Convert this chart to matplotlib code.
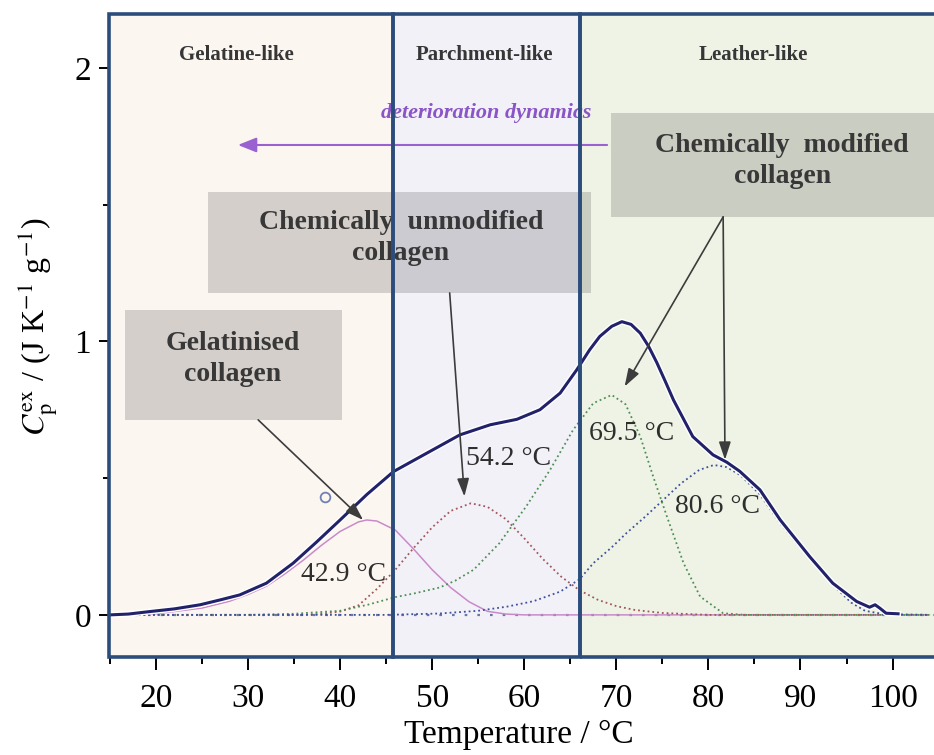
import numpy as np
import matplotlib
matplotlib.use('Agg')
import matplotlib.pyplot as plt
from matplotlib.patches import Rectangle
import matplotlib.patheffects as pe

plt.rcParams['font.family'] = ['Liberation Serif', 'DejaVu Serif']
plt.rcParams['mathtext.fontset'] = 'stix'

# data
T_total = [15.0, 17.0, 19.3, 22.0, 24.8, 27.0, 29.1, 32.0, 34.9, 37.4, 40.0, 42.9,
           45.8, 49.4, 53.0, 56.3, 59.2, 61.7, 63.9, 65.7, 67.1, 68.2, 69.5, 70.6, 71.6,
           72.6, 73.5, 74.4, 75.3, 76.2, 78.3, 80.5, 82.0, 83.4, 85.6, 87.8, 91.0, 93.5, 96.1,
           97.5, 98.1, 98.6, 99.3, 100.6]
Cp_total = [0.0, 0.003, 0.012, 0.022, 0.037, 0.055, 0.073, 0.116, 0.189, 0.265, 0.347, 0.44,
            0.524, 0.591, 0.658, 0.695, 0.715, 0.75, 0.811, 0.896, 0.969, 1.018, 1.055, 1.072, 1.062,
            1.03, 0.982, 0.922, 0.855, 0.786, 0.652, 0.585, 0.558, 0.525, 0.457, 0.347, 0.213, 0.116, 0.049,
            0.028, 0.037, 0.025, 0.006, 0.004]

T_pink = [15, 20, 25, 28, 30, 32, 34, 36, 38, 40, 42, 42.9, 44, 46, 48, 50, 52, 54, 56, 58, 60, 104]
Cp_pink = [0, 0.004, 0.025, 0.05, 0.075, 0.105, 0.15, 0.2, 0.255, 0.305, 0.34, 0.347, 0.343, 0.31,
           0.24, 0.165, 0.1, 0.048, 0.013, 0.003, 0, 0]

T_brown = [15, 36, 38, 40, 42, 44, 46, 48, 50, 52, 54.2, 56, 58, 60, 62, 64, 66, 68, 70, 72, 75, 80, 104]
Cp_brown = [0, 0, 0.004, 0.012, 0.035, 0.095, 0.165, 0.245, 0.32, 0.38, 0.408, 0.395, 0.35, 0.28,
            0.205, 0.14, 0.09, 0.055, 0.032, 0.018, 0.007, 0, 0]

T_green = [15, 30, 35, 40, 43, 46, 48, 50.8, 52.5, 54.5, 57.3, 60.2, 62.8, 65.3, 67.5, 69.5, 71,
           72.6, 74, 75.5, 77.3, 79.1, 81.6, 84, 104]
Cp_green = [0, 0, 0.004, 0.015, 0.037, 0.065, 0.078, 0.1, 0.125, 0.165, 0.262, 0.396, 0.53, 0.676,
            0.774, 0.804, 0.77, 0.652, 0.506, 0.359, 0.189, 0.067, 0.006, 0, 0]

T_blue = [15, 45, 50.8, 55, 58.1, 61, 63.9, 66, 67.5, 69.5, 71.1, 73, 74.7, 77, 79, 80.6, 82, 83.5,
          85.6, 87.8, 91, 93.5, 95.5, 97, 99, 104]
Cp_blue = [0, 0, 0.005, 0.015, 0.03, 0.05, 0.085, 0.13, 0.189, 0.247, 0.299, 0.355, 0.408, 0.48,
           0.53, 0.548, 0.54, 0.51, 0.44, 0.335, 0.205, 0.11, 0.045, 0.015, 0.003, 0]

peak_temps = [42.9, 54.2, 69.5, 80.6]
region_names = ['Gelatine-like', 'Parchment-like', 'Leather-like']
region_bounds = [14.9, 45.7, 66.0, 110.0]

fig = plt.figure(figsize=(9.34, 7.55), dpi=100)
ax = fig.add_axes([0.1167, 0.1298, 0.8833, 0.8517])
ax.set_xlim(14.9, 104.5)
ax.set_ylim(-0.154, 2.197)
y0, y1 = ax.get_ylim()

fills = ['#fcf6f1', '#f2f1f8', '#eff3e5']
for i in range(3):
    ax.add_patch(Rectangle((region_bounds[i], y0), region_bounds[i+1] - region_bounds[i], y1 - y0,
                           facecolor=fills[i], edgecolor='none', zorder=0))
    ax.add_patch(Rectangle((region_bounds[i], y0), region_bounds[i+1] - region_bounds[i], y1 - y0,
                           fill=False, edgecolor='#2c4d7c', lw=2.6, zorder=20, clip_on=False))

lab_x = [28.7, 55.7, 84.9]
for name, x in zip(region_names, lab_x):
    ax.text(x, 2.047, name, ha='center', va='center', fontsize=15, fontweight='bold', color='#363636')

# deterioration arrow
ax.text(55.9, 1.835, 'deterioration dynamics', ha='center', va='center', fontsize=16,
        style='italic', fontweight='bold', color='#8a55c6', zorder=5)
ax.annotate('', xy=(28.6, 1.718), xytext=(69.3, 1.718),
            arrowprops=dict(arrowstyle='-|>,head_length=0.7,head_width=0.28', color='#9a62d0',
                            lw=1.5, mutation_scale=16), zorder=4)

# baseline
ax.plot([15, 104.5], [0, 0], color='#6a78a6', lw=1.6, dashes=(1.2, 4.5), zorder=2)

# components
ax.plot(T_pink, Cp_pink, color='#c98ac9', lw=1.1, zorder=3)
ax.plot(T_brown, Cp_brown, color='#a2585a', lw=1.3, ls=':', zorder=3)
ax.plot(T_green, Cp_green, color='#4f8f55', lw=1.3, ls=':', zorder=3)
ax.plot(T_blue, Cp_blue, color='#3e4f9c', lw=1.3, ls=':', zorder=3)

# total curve
ax.plot(T_total, Cp_total, color='#22226a', lw=2.2, zorder=6, solid_joinstyle='round',
        path_effects=[pe.Stroke(linewidth=4.2, foreground='white'), pe.Normal()])

ax.plot([38.35], [0.432], 'o', mfc='none', mec='#7080b0', ms=7, mew=1.3, zorder=6)

# grey boxes
boxes = [(16.6, 0.713, 40.2, 1.115), (25.6, 1.177, 67.3, 1.547), (69.4, 1.455, 110, 1.835)]
for bx0, by0, bx1, by1 in boxes:
    ax.add_patch(Rectangle((bx0, by0), bx1 - bx0, by1 - by0, facecolor='#141414', alpha=0.17,
                           edgecolor='none', zorder=8, clip_on=False))

box_txt = [(28.3, 0.936, 'Gelatinised\ncollagen'),
           (46.6, 1.378, 'Chemically  unmodified\ncollagen'),
           (88.0, 1.66, 'Chemically  modified\ncollagen')]
for x, y, s in box_txt:
    ax.text(x, y, s, ha='center', va='center', fontsize=20, fontweight='bold', color='#383838',
            linespacing=1.3, zorder=9)

arr = dict(arrowstyle='-|>,head_length=0.6,head_width=0.2', color='#3c3c3c', lw=1.2, mutation_scale=18,
           shrinkA=0, shrinkB=0)
ax.annotate('', xy=(42.5, 0.347), xytext=(31.1, 0.713), arrowprops=arr, zorder=9)
ax.annotate('', xy=(53.5, 0.433), xytext=(51.9, 1.177), arrowprops=arr, zorder=9)
ax.annotate('', xy=(70.9, 0.835), xytext=(81.6, 1.455), arrowprops=arr, zorder=9)
ax.annotate('', xy=(81.8, 0.567), xytext=(81.6, 1.455), arrowprops=arr, zorder=9)

lab_pos = [(40.4, 0.146), (58.3, 0.57), (71.7, 0.664), (81.0, 0.395)]
for t, (x, y) in zip(peak_temps, lab_pos):
    ax.text(x, y, f'{t} °C', ha='center', va='center', fontsize=20, color='#2e2e2e', zorder=9)

# axes
for s in ['top', 'right']:
    ax.spines[s].set_visible(False)
ax.spines['left'].set_visible(False)
ax.spines['bottom'].set_linewidth(1.2)
ax.set_xticks(np.arange(20, 101, 10))
ax.set_xticks(np.arange(15, 105, 5), minor=True)
ax.set_yticks([0, 1, 2])
ax.set_yticks([0.5, 1.5], minor=True)
ax.tick_params(axis='x', which='major', direction='out', length=9, width=1.4, pad=10, labelsize=24)
ax.tick_params(axis='x', which='minor', direction='out', length=5, width=1.4)
ax.tick_params(axis='y', which='major', direction='out', length=7, width=1.4, pad=6, labelsize=24)
ax.tick_params(axis='y', which='minor', direction='out', length=4, width=1.4)

fig.text(0.555, 0.027, 'Temperature / °C', ha='center', va='center', fontsize=24)
fig.text(0.04, 0.567, r'$C_{\mathrm{p}}^{\mathrm{ex}}$ / (J K$^{-1}$ g$^{-1}$)', ha='center',
         va='center', rotation=90, fontsize=23)

plt.savefig('out.png', dpi=100)
